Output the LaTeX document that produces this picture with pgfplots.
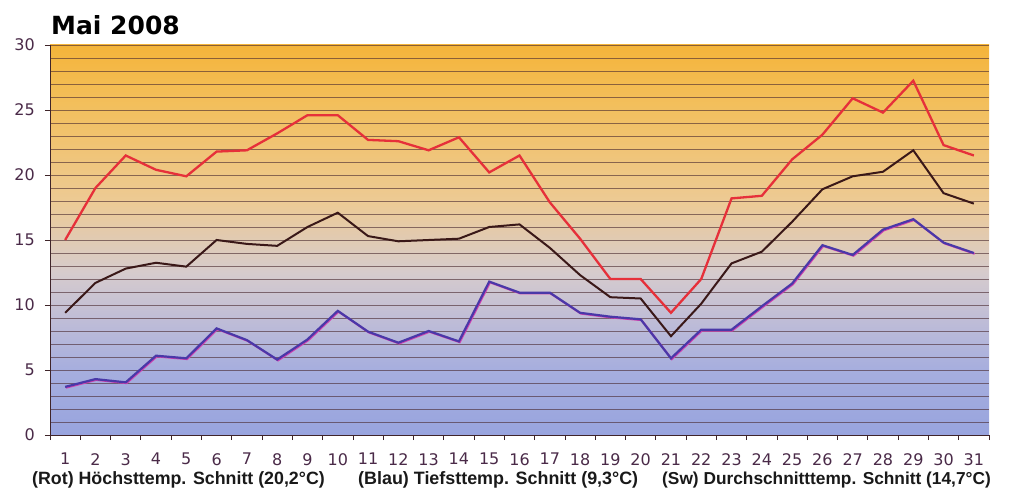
\documentclass[border=0pt]{standalone}
\usepackage{fontspec}
\setmainfont{DejaVu Sans}
\newfontfamily\capfont{Liberation Sans}
\newfontfamily\titlefont{DejaVu Sans}
\usepackage{pgfplots}
\usepackage{pgfplotstable}
\pgfplotsset{compat=1.18}
\definecolor{cbot}{HTML}{98A4DE}
\definecolor{cfive}{HTML}{A6AEDE}
\definecolor{ceight}{HTML}{B9B9D9}
\definecolor{ctwelve}{HTML}{D6CBCD}
\definecolor{ceighteen}{HTML}{EDCA94}
\definecolor{ctwentysix}{HTML}{F3BE58}
\definecolor{ctop}{HTML}{F4B43A}
\definecolor{redline}{HTML}{E6303A}
\definecolor{blackline}{HTML}{3A1818}
\definecolor{blueline}{HTML}{4A38A8}
\definecolor{ghost}{HTML}{D040B0}
\definecolor{ticktext}{HTML}{4A2A48}
\definecolor{gridc}{HTML}{4A2A30}
\pgfdeclareverticalshading{mygrad}{100bp}{color(0bp)=(cbot); color(25bp)=(cbot); color(33.3bp)=(cfive); color(38.3bp)=(ceight); color(45.8bp)=(ctwelve); color(55bp)=(ceighteen); color(68.3bp)=(ctwentysix); color(75bp)=(ctop); color(100bp)=(ctop)}
\newcommand{\tickfont}{\fontsize{16}{19}\selectfont}

\pgfplotstableread{
day hi lo avg
1 15.0 3.7 9.4
2 19.0 4.3 11.7
3 21.5 4.05 12.8
4 20.4 6.1 13.25
5 19.9 5.9 12.95
6 21.8 8.2 15.0
7 21.9 7.3 14.7
8 23.2 5.8 14.55
9 24.6 7.35 16.0
10 24.6 9.55 17.1
11 22.7 7.95 15.3
12 22.6 7.1 14.9
13 21.9 8.0 15.0
14 22.9 7.2 15.1
15 20.2 11.8 16.0
16 21.5 10.95 16.2
17 17.9 10.95 14.4
18 15.1 9.4 12.3
19 12.0 9.1 10.6
20 12.0 8.9 10.5
21 9.4 5.9 7.6
22 12.0 8.1 10.1
23 18.2 8.1 13.2
24 18.4 9.9 14.1
25 21.2 11.65 16.4
26 23.1 14.6 18.9
27 25.9 13.85 19.9
28 24.8 15.8 20.25
29 27.25 16.6 21.9
30 22.3 14.8 18.6
31 21.5 14.0 17.8
}\temps

\begin{document}
\begin{tikzpicture}
\useasboundingbox (-50pt,-60pt) rectangle (966pt,435pt);
\begin{axis}[
  scale only axis, width=939pt, height=390pt,
  xmin=0.5, xmax=31.5, ymin=0, ymax=30,
  axis x line=bottom, axis y line=left,
  axis line style={-, draw=gridc!85!black, line width=0.9pt},
  axis background/.style={shading=mygrad},
  xtick={1,...,31}, minor xtick={0.5,1.5,...,31.5},
  ytick={0,...,30},
  yticklabels={0,{},{},{},{},5,{},{},{},{},10,{},{},{},{},15,{},{},{},{},20,{},{},{},{},25,{},{},{},{},30},
  minor ytick={0,5,...,30},
  major tick length=0pt, minor tick length=5pt, tick align=outside,
  every minor tick/.append style={draw=gridc!85!black, line width=0.8pt},
  ymajorgrids,
  major grid style={draw=gridc, opacity=0.62, line width=0.9pt},
  /pgf/number format/assume math mode=true,
  every tick label/.append style={font=\tickfont, text=ticktext},
  yticklabel style={font=\tickfont, inner sep=0pt, anchor=east, xshift=-15pt},
  xticklabel style={font=\tickfont, inner sep=0pt, anchor=north, yshift=-18pt},
  no marks,
  clip=false,
]
\addplot[blackline, line width=2pt] table[x=day, y=avg] {\temps};
\addplot[ghost, line width=2pt, transform canvas={xshift=0.8pt, yshift=-0.8pt}] table[x=day, y=lo] {\temps};
\addplot[blueline, line width=2.2pt] table[x=day, y=lo] {\temps};
\addplot[redline, line width=2.3pt] table[x=day, y=hi] {\temps};
\end{axis}
\node[anchor=base west, inner sep=0pt, font=\titlefont\bfseries\fontsize{25}{29}\selectfont] at (1pt,400pt) {Mai 2008};
\begin{scope}[every node/.style={anchor=base west, inner sep=0pt, text=black!90}]
\node[font=\capfont\bfseries\fontsize{17.8}{20}\selectfont] at (-18pt,-49pt) {(Rot) Höchsttemp. Schnitt (20,2°C)};
\node[font=\capfont\bfseries\fontsize{17.9}{20}\selectfont] at (308pt,-49pt) {(Blau) Tiefsttemp. Schnitt (9,3°C)};
\node[font=\capfont\bfseries\fontsize{17.3}{20}\selectfont] at (612pt,-49pt) {(Sw) Durchschnitttemp. Schnitt (14,7°C)};
\end{scope}
\end{tikzpicture}
\end{document}
